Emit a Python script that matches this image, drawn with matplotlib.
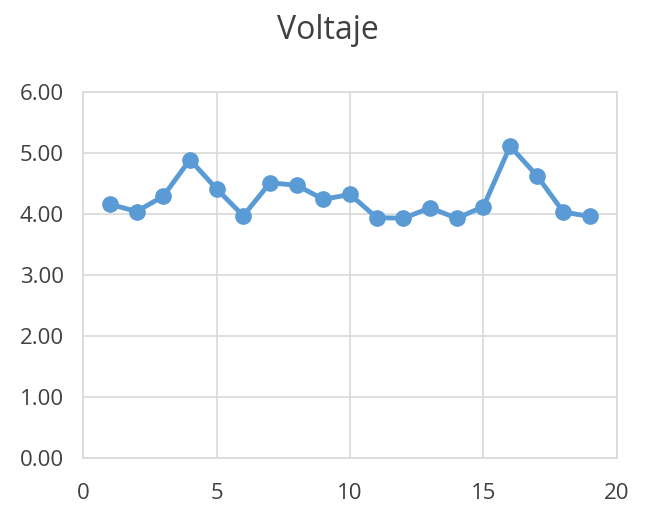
import matplotlib
matplotlib.use('Agg')
import matplotlib.pyplot as plt

# data
x = list(range(1, 20))
voltaje = [4.16, 4.04, 4.29, 4.89, 4.41, 3.97, 4.51, 4.47, 4.24, 4.32,
           3.94, 3.93, 4.10, 3.93, 4.12, 5.11, 4.63, 4.03, 3.96]

xticks = [0, 5, 10, 15, 20]
yticks = [0, 1, 2, 3, 4, 5, 6]

plt.rcParams['font.family'] = ['Open Sans', 'DejaVu Sans']

fig = plt.figure(figsize=(6.5, 5.16), dpi=100)
ax = fig.add_axes([0.128, 0.112, 0.821, 0.710])

ax.plot(x, voltaje, color='#5B9BD5', linewidth=3.5, marker='o',
        markersize=11, zorder=3)

ax.set_xlim(0, 20)
ax.set_ylim(0, 6)
ax.set_xticks(xticks)
ax.set_yticks(yticks)
ax.set_yticklabels([f'{v:.2f}' for v in yticks])
ax.grid(True, color='#D9D9D9', linewidth=1.2)
ax.set_axisbelow(True)
for s in ax.spines.values():
    s.set_color('#D9D9D9')
    s.set_linewidth(1.2)
ax.tick_params(length=0, labelsize=16, colors='#404040')
ax.tick_params(axis='x', pad=18)
ax.tick_params(axis='y', pad=14)

fig.text(0.505, 0.94, 'Voltaje', ha='center', va='center',
         fontsize=23, color='#404040')

fig.savefig('out.png', dpi=100)
